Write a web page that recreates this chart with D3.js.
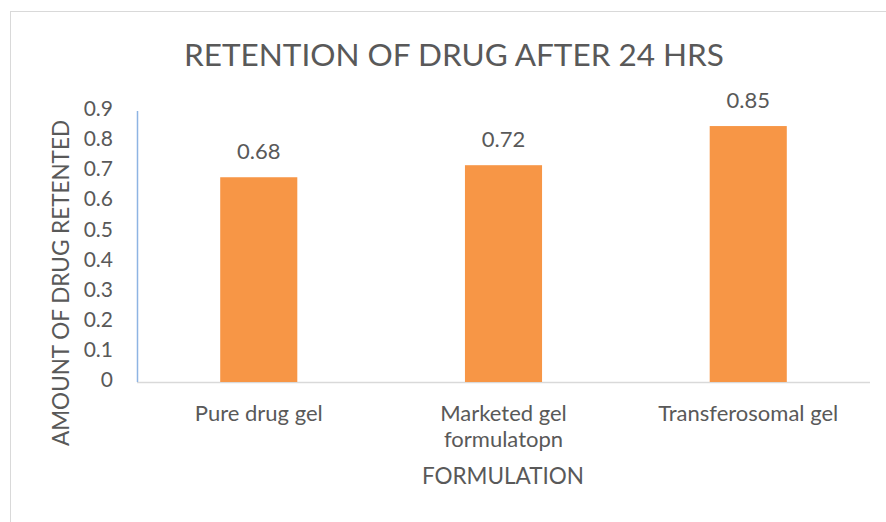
<html lang="en">
<head>
<meta charset="UTF-8">
<title>Retention of drug</title>
<style>
  body { margin: 0; background: #fff; }
  text { font-family: Lato, "Open Sans", sans-serif; fill: #595959; }
</style>
</head>
<body>
<script src="https://d3js.org/d3.v7.min.js"></script>
<svg id="chart"></svg>
<script>
var categories = ["Pure drug gel", "Marketed gel\nformulatopn", "Transferosomal gel"];
var retained = [0.68, 0.72, 0.85];
var yTicks = [0, 0.1, 0.2, 0.3, 0.4, 0.5, 0.6, 0.7, 0.8, 0.9];

var outerWidth = 886, outerHeight = 522;
var margin = {top: 111, right: 16, bottom: 140, left: 137},
    width = outerWidth - margin.left - margin.right,
    height = outerHeight - margin.top - margin.bottom;

var svgRoot = d3.select("#chart")
    .attr("width", outerWidth)
    .attr("height", outerHeight);

// chart area frame
svgRoot.append("rect")
    .attr("x", 10.5).attr("y", 11.5)
    .attr("width", 900).attr("height", 600)
    .attr("fill", "none")
    .attr("stroke", "#d9d9d9");

var svg = svgRoot.append("g")
    .attr("transform", `translate(${margin.left}, ${margin.top})`);

var x = d3.scaleBand()
    .domain(categories)
    .range([0, width])
    .paddingInner(0.685)
    .paddingOuter(0.34);

var y = d3.scaleLinear()
    .domain([0, 0.9])
    .range([height, 0]);

// y axis labels
var yAxis = svg.append("g")
    .call(d3.axisLeft(y).tickValues(yTicks).tickSize(0).tickPadding(24)
        .tickFormat(d => d === 0 ? "0" : d3.format(".1f")(d)));
yAxis.select(".domain").remove();
yAxis.selectAll("text")
    .attr("dy", "0.22em")
    .style("font-size", "21px")
    .attr("fill", "#595959");

// axis lines
svg.append("line")
    .attr("x1", 0).attr("x2", width)
    .attr("y1", height + 0.5).attr("y2", height + 0.5)
    .attr("stroke", "#d9d9d9").attr("stroke-width", 1.5);
svg.append("line")
    .attr("x1", 0.5).attr("x2", 0.5)
    .attr("y1", 0).attr("y2", height)
    .attr("stroke", "#8eb4e3").attr("stroke-width", 1.5);

// bars
svg.selectAll("rect.bar")
    .data(retained)
    .enter().append("rect")
    .attr("class", "bar")
    .attr("x", (d, i) => x(categories[i]))
    .attr("y", d => y(d))
    .attr("width", x.bandwidth())
    .attr("height", d => height - y(d))
    .attr("fill", "#f79646");

// value labels
svg.selectAll("text.val")
    .data(retained)
    .enter().append("text")
    .attr("class", "val")
    .attr("x", (d, i) => x(categories[i]) + x.bandwidth() / 2)
    .attr("y", d => y(d) - 18)
    .attr("text-anchor", "middle")
    .style("font-size", "22px")
    .text(d => d);

// category labels
var cat = svg.selectAll("text.cat")
    .data(categories)
    .enter().append("text")
    .attr("class", "cat")
    .attr("text-anchor", "middle")
    .attr("x", d => x(d) + x.bandwidth() / 2)
    .attr("y", height + 39)
    .style("font-size", "22px");
cat.selectAll("tspan")
    .data(d => d.split("\n"))
    .enter().append("tspan")
    .attr("x", function() { var p = this.parentNode; return p.getAttribute("x"); })
    .attr("dy", (d, i) => i === 0 ? 0 : 26)
    .text(d => d);

// title
svgRoot.append("text")
    .attr("x", 454).attr("y", 66)
    .attr("text-anchor", "middle")
    .style("font-size", "31.5px")
    .text("RETENTION OF DRUG AFTER 24 HRS");

// axis titles
svgRoot.append("text")
    .attr("x", 503).attr("y", 484)
    .attr("text-anchor", "middle")
    .style("font-size", "22.5px")
    .text("FORMULATION");

svgRoot.append("text")
    .attr("transform", "translate(69, 283) rotate(-90)")
    .attr("text-anchor", "middle")
    .style("font-size", "22.5px")
    .text("AMOUNT OF DRUG RETENTED");
</script>
</body>
</html>
